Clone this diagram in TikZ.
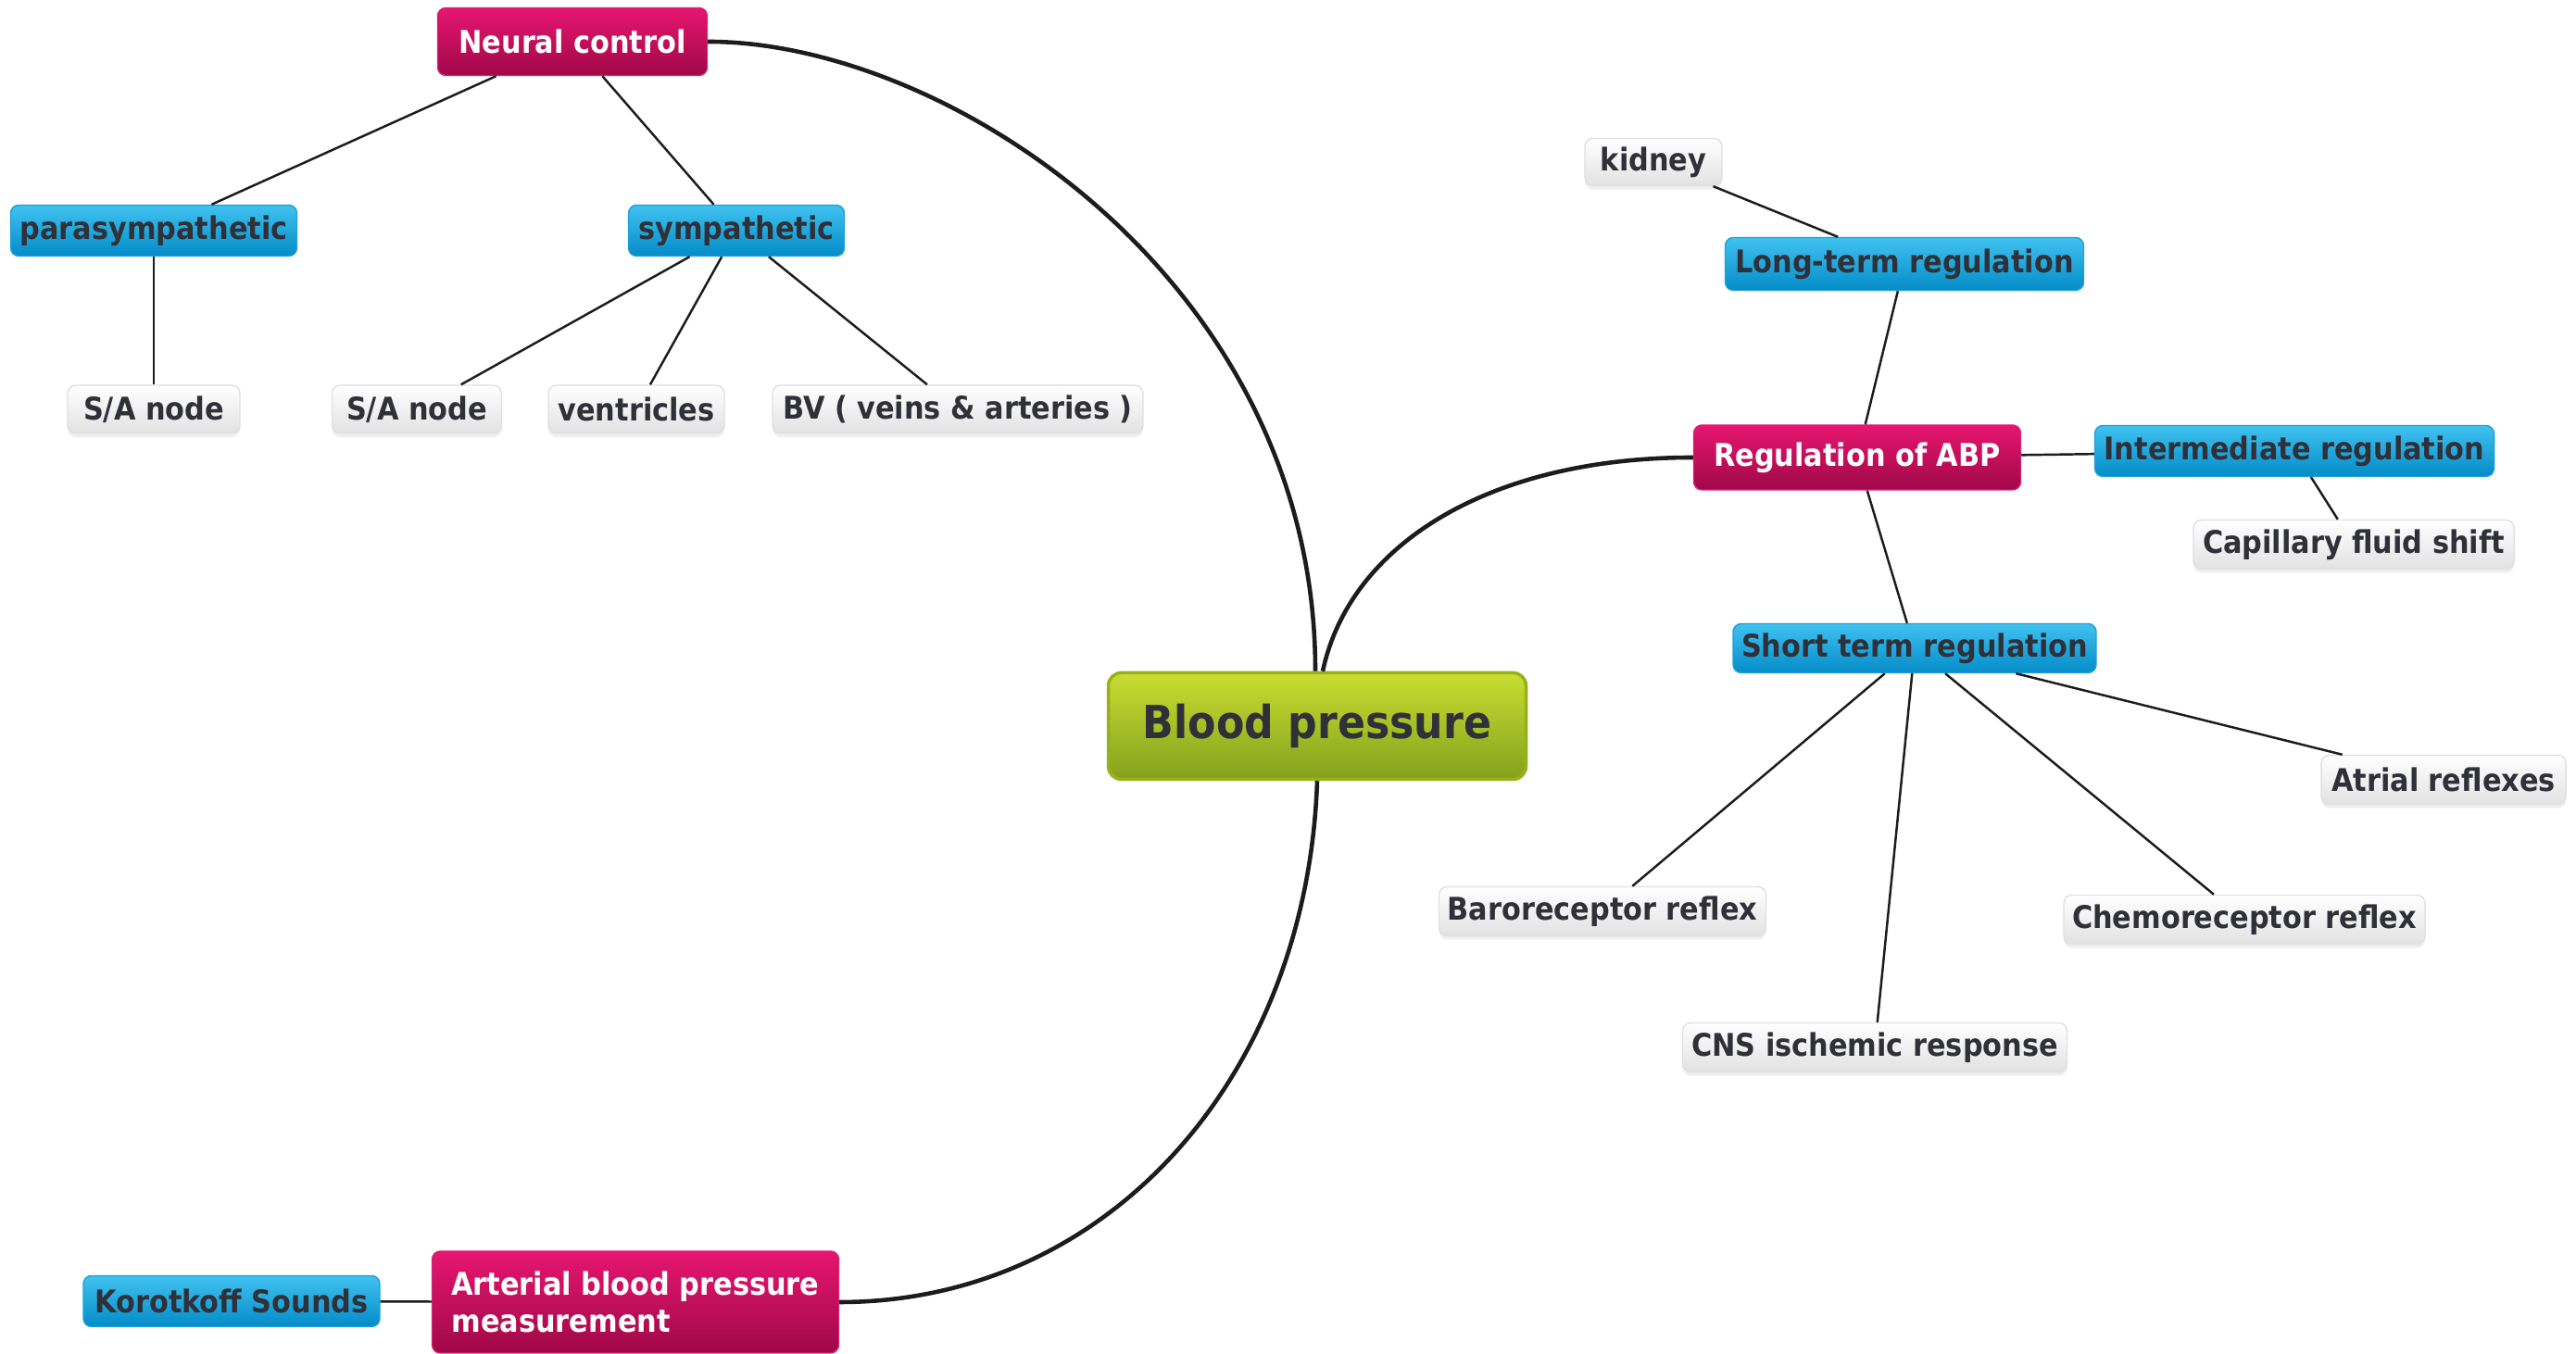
\documentclass[tikz,border=0pt]{standalone}
\usepackage{fontspec}
\setmainfont{DejaVu Sans Condensed}
\usepackage{xcolor}
\definecolor{mmpinktop}{RGB}{230,22,112}
\definecolor{mmpinkbot}{RGB}{160,8,72}
\definecolor{mmpinkline}{RGB}{214,34,116}
\definecolor{mmbluetop}{RGB}{64,194,240}
\definecolor{mmbluebot}{RGB}{4,140,200}
\definecolor{mmblueline}{RGB}{30,160,215}
\definecolor{mmgreentop}{RGB}{200,222,50}
\definecolor{mmgreenbot}{RGB}{134,160,28}
\definecolor{mmgreenline}{RGB}{150,178,24}
\definecolor{mmleafbot}{RGB}{226,226,226}
\definecolor{mmleafline}{RGB}{224,224,224}
\definecolor{mmtext}{RGB}{48,48,56}
\definecolor{mmwire}{RGB}{28,28,28}
\usepackage{tikz}
\usetikzlibrary{shadows}

\tikzset{
  mmnode/.style={rounded corners=2.5pt, inner sep=0pt, align=center, text=mmtext,
    font=\fontsize{9.6}{11.6}\selectfont\bfseries},
  pinkbox/.style={mmnode, top color=mmpinktop, bottom color=mmpinkbot, draw=mmpinkline, text=white},
  bluebox/.style={mmnode, top color=mmbluetop, bottom color=mmbluebot, draw=mmblueline},
  leafbox/.style={mmnode, top color=white, bottom color=mmleafbot, draw=mmleafline,
    drop shadow={opacity=0.12, shadow xshift=0pt, shadow yshift=-1.2pt}},
  rootbox/.style={mmnode, rounded corners=4pt, top color=mmgreentop, bottom color=mmgreenbot,
    draw=mmgreenline, line width=1pt, font=\fontsize{14}{16.5}\selectfont\bfseries},
  mainwire/.style={draw=mmwire, line width=1.3pt},
  subwire/.style={draw=mmwire, line width=0.7pt}
}

\begin{document}
\begin{tikzpicture}
  \useasboundingbox[fill=white] (0,0) rectangle (27.81,14.62);

  % centre
  \node[rootbox, minimum width=4.51cm, minimum height=1.15cm] (bp) at (14.22,6.78) {Blood pressure};

  % Neural control branch
  \node[pinkbox, minimum width=2.91cm, minimum height=0.73cm] (neural) at (6.18,14.17) {Neural control};
  \node[bluebox, minimum width=3.09cm, minimum height=0.55cm] (para) at (1.66,12.13) {parasympathetic};
  \node[bluebox, minimum width=2.33cm, minimum height=0.55cm] (symp) at (7.95,12.13) {sympathetic};
  \node[leafbox, minimum width=1.86cm, minimum height=0.52cm] (sanleft) at (1.66,10.20) {S/A node};
  \node[leafbox, minimum width=1.83cm, minimum height=0.52cm] (sanmid) at (4.50,10.20) {S/A node};
  \node[leafbox, minimum width=1.90cm, minimum height=0.52cm] (vent) at (6.87,10.20) {ventricles};
  \node[leafbox, minimum width=4.00cm, minimum height=0.52cm] (bv) at (10.34,10.20) {BV ( veins \& arteries )};

  % Regulation branch
  \node[pinkbox, minimum width=3.53cm, minimum height=0.70cm] (abp) at (20.05,9.68) {Regulation of ABP};
  \node[bluebox, minimum width=3.87cm, minimum height=0.57cm] (longt) at (20.56,11.77) {Long-term regulation};
  \node[leafbox, minimum width=1.48cm, minimum height=0.51cm] (kidney) at (17.85,12.87) {kidney};
  \node[bluebox, minimum width=4.31cm, minimum height=0.55cm] (inter) at (24.77,9.75) {Intermediate regulation};
  \node[leafbox, minimum width=3.46cm, minimum height=0.53cm] (capil) at (25.41,8.74) {Capillary fluid shift};
  \node[bluebox, minimum width=3.92cm, minimum height=0.53cm] (shortt) at (20.67,7.62) {Short term regulation};
  \node[leafbox, minimum width=2.64cm, minimum height=0.53cm] (atrial) at (26.38,6.20) {Atrial reflexes};
  \node[leafbox, minimum width=3.53cm, minimum height=0.53cm] (baro) at (17.30,4.78) {Baroreceptor reflex};
  \node[leafbox, minimum width=3.90cm, minimum height=0.53cm] (chemo) at (24.23,4.69) {Chemoreceptor reflex};
  \node[leafbox, minimum width=4.15cm, minimum height=0.53cm] (cns) at (20.24,3.31) {CNS ischemic response};

  % Measurement branch
  \node[pinkbox, align=left, minimum width=4.39cm, minimum height=1.10cm] (arterial) at (6.86,0.56) {Arterial blood pressure\\measurement};
  \node[bluebox, minimum width=3.20cm, minimum height=0.55cm] (koro) at (2.50,0.57) {Korotkoff Sounds};

  % main curves
  \draw[mainwire] (neural.east) to[out=0,in=90,out distance=2.6cm,in distance=4.2cm] ([xshift=-0.02cm]bp.north);
  \draw[mainwire] ([xshift=0.06cm]bp.north) to[out=78,in=180,out distance=1.4cm,in distance=2.2cm] (abp.west);
  \draw[mainwire] (bp.south) to[out=-92,in=0,out distance=3.2cm,in distance=2.9cm] (arterial.east);

  % sub branches
  \draw[subwire] (neural) -- (para);
  \draw[subwire] (neural) -- (symp);
  \draw[subwire] (para) -- (sanleft);
  \draw[subwire] (symp) -- (sanmid);
  \draw[subwire] (symp) -- (vent);
  \draw[subwire] (symp) -- (bv);
  \draw[subwire] (kidney) -- (longt);
  \draw[subwire] (longt) -- (abp);
  \draw[subwire] (abp) -- (inter);
  \draw[subwire] (inter) -- (capil);
  \draw[subwire] (abp) -- (shortt);
  \draw[subwire] (shortt) -- (baro);
  \draw[subwire] (shortt) -- (cns);
  \draw[subwire] (shortt) -- (chemo);
  \draw[subwire] (shortt) -- (atrial);
  \draw[subwire] (koro) -- (arterial);
\end{tikzpicture}
\end{document}
